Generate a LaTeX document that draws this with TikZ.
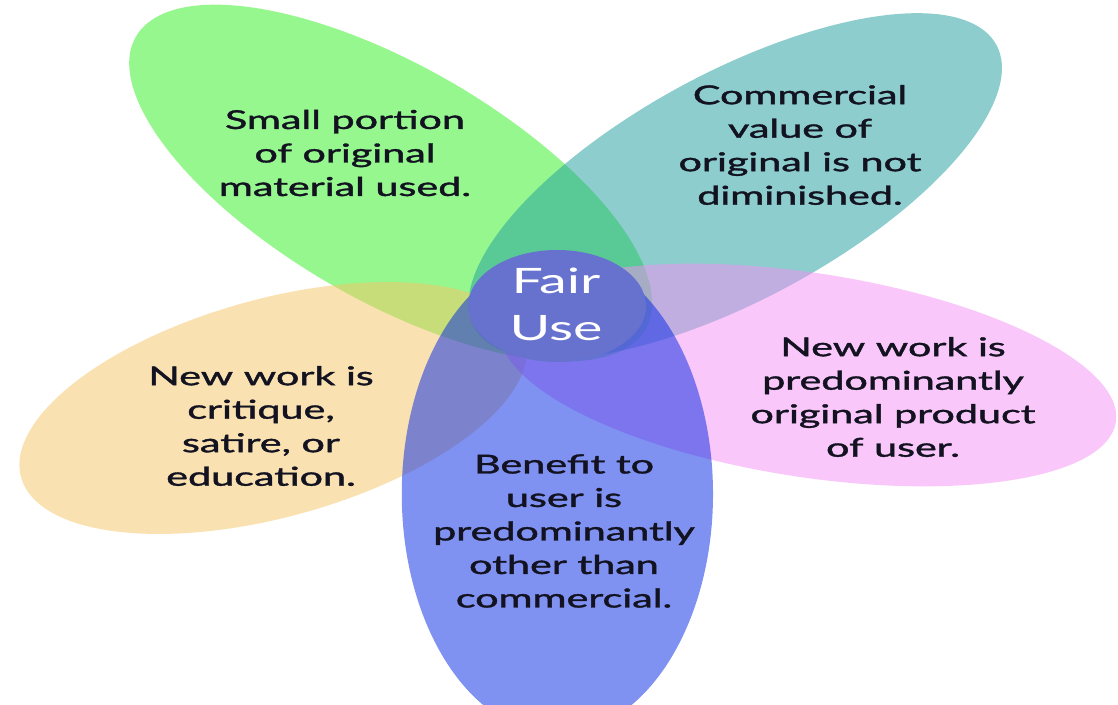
\documentclass[tikz,border=0pt]{standalone}
\usepackage{fontspec}
\setmainfont{Lato}[FakeBold=1.2]
\newfontfamily\hubfont{Lato}
\definecolor{gbase}{RGB}{49,241,33}
\definecolor{tbase}{RGB}{29,157,157}
\definecolor{obase}{RGB}{245,197,101}
\definecolor{pbase}{RGB}{245,145,245}
\definecolor{bbase}{RGB}{0,37,229}
\definecolor{hub}{RGB}{102,114,206}
\definecolor{txt}{RGB}{18,18,32}
\begin{document}
\begin{tikzpicture}[x=1pt,y=-1pt,
  petal/.style={fill opacity=0.5, draw=none},
  lbl/.style={align=center, text=txt, font=\fontsize{26}{33.5}\selectfont, transform shape, inner sep=0pt},
  hublbl/.style={align=center, text=white, font=\hubfont\fontsize{35}{47}\selectfont, transform shape, inner sep=0pt}]
\useasboundingbox (0,0) rectangle (1118,704);
\fill[white] (0,0) rectangle (1118,704);
\begin{scope}
\clip (0,0) rectangle (1118,704);
\begin{scope}[xscale=1.588]
  \fill[petal, gbase, rotate around={-48.4:(246,183)}] (246,183) ellipse [x radius=222, y radius=98];
  \fill[petal, tbase, rotate around={46.2:(463,186)}] (463,186) ellipse [x radius=221, y radius=96];
  \fill[petal, obase, rotate around={31:(172,408)}] (172,408) ellipse [x radius=176, y radius=102];
  \fill[petal, pbase, rotate around={-16.4:(509,375)}] (509,375) ellipse [x radius=200, y radius=100];
  \fill[petal, bbase] (351,494) ellipse [x radius=98, y radius=240];
  \fill[hub] (350.8,306) circle [radius=56];
\end{scope}
\end{scope}
\begin{scope}[xscale=1.588]
  \node[hublbl] (fair) at (556/1.588,304) {Fair\\Use};
  \node[lbl] (small) at (345/1.588,153) {Small portion\\of original\\material used.};
  \node[lbl] (comm) at (800/1.588,145) {Commercial\\value of\\original is not\\diminished.};
  \node[lbl] (crit) at (261/1.588,426) {New work is\\critique,\\satire, or\\education.};
  \node[lbl] (orig) at (893/1.588,397) {New work is\\predominantly\\original product\\of user.};
  \node[lbl] (bene) at (564/1.588,531) {Benefit to\\user is\\predominantly\\other than\\commercial.};
\end{scope}
\end{tikzpicture}
\end{document}
